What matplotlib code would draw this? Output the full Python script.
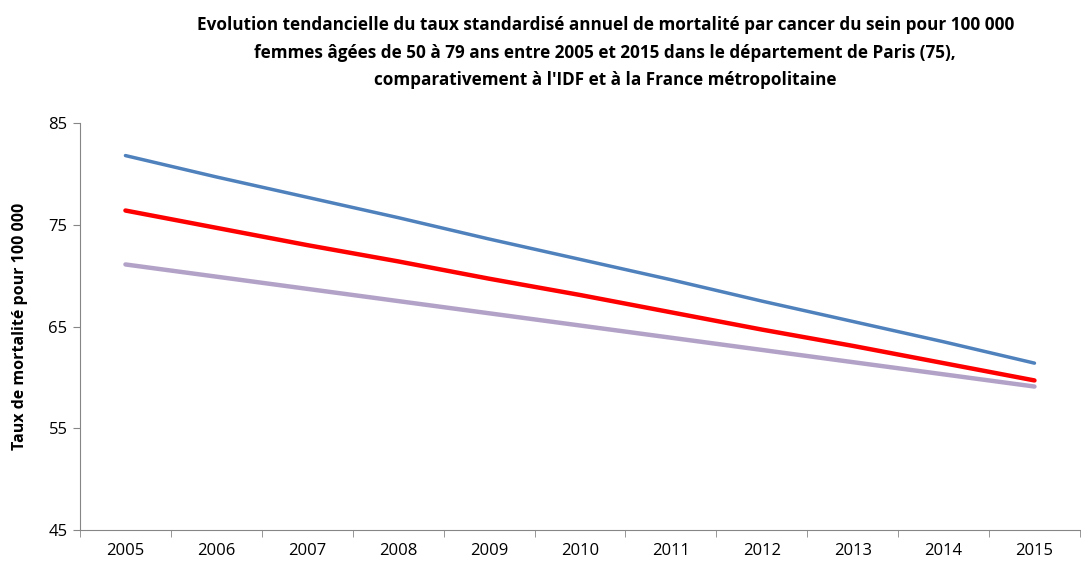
import numpy as np
from matplotlib import pyplot as plt
from matplotlib import font_manager

# police proche de Calibri
names = {f.name for f in font_manager.fontManager.ttflist}
family = "Liberation Sans Narrow" if "Liberation Sans Narrow" in names else "Open Sans"
plt.rcParams['font.family'] = [family, 'DejaVu Sans']

years = ["2005", "2006", "2007", "2008", "2009", "2010",
         "2011", "2012", "2013", "2014", "2015"]

paris = [81.8, 79.7, 77.7, 75.7, 73.6, 71.6, 69.6, 67.5, 65.5, 63.5, 61.4]
idf = [76.4, 74.7, 73.0, 71.4, 69.7, 68.1, 66.4, 64.7, 63.1, 61.4, 59.7]
france = [71.1, 69.9, 68.7, 67.5, 66.3, 65.1, 63.9, 62.7, 61.5, 60.3, 59.1]

yticks = [45, 55, 65, 75, 85]

title = ("Evolution tendancielle du taux standardisé annuel de mortalité par cancer du sein pour 100 000\n"
         "femmes âgées de 50 à 79 ans entre 2005 et 2015 dans le département de Paris (75),\n"
         "comparativement à l'IDF et à la France métropolitaine")

fig = plt.figure(figsize=(10.81, 5.63), dpi=100)
ax = fig.add_axes([0.074, 0.0586, 0.925, 0.7229])

x = np.arange(len(years))
ax.plot(x, france, color="#B3A2C7", lw=3.2, solid_capstyle="round")
ax.plot(x, idf, color="#FF0000", lw=3.2, solid_capstyle="round")
ax.plot(x, paris, color="#4F81BD", lw=2.5, solid_capstyle="round")

ax.set_xlim(-0.5, len(years) - 0.5)
ax.set_ylim(45, 85)
ax.set_yticks(yticks)
ax.set_xticks(x)
ax.set_xticklabels(years, fontsize=12)
ax.set_xticks(np.arange(-0.5, len(years), 1.0), minor=True)
ax.tick_params(axis="x", which="major", length=0, pad=9)
ax.tick_params(axis="x", which="minor", length=5, color="#868686", direction="out")
ax.tick_params(axis="y", length=5, color="#868686", labelsize=12, pad=4)

for s in ["top", "right"]:
    ax.spines[s].set_visible(False)
for s in ["left", "bottom"]:
    ax.spines[s].set_color("#868686")

ax.set_ylabel("Taux de mortalité pour 100 000", fontsize=11.5, fontweight="bold")
ax.yaxis.set_label_coords(-0.052, 0.5)

fig.text(0.56, 0.972, title, ha="center", va="top", fontsize=12.3,
         fontweight="bold", linespacing=1.7)

plt.savefig("out.png", dpi=100)
